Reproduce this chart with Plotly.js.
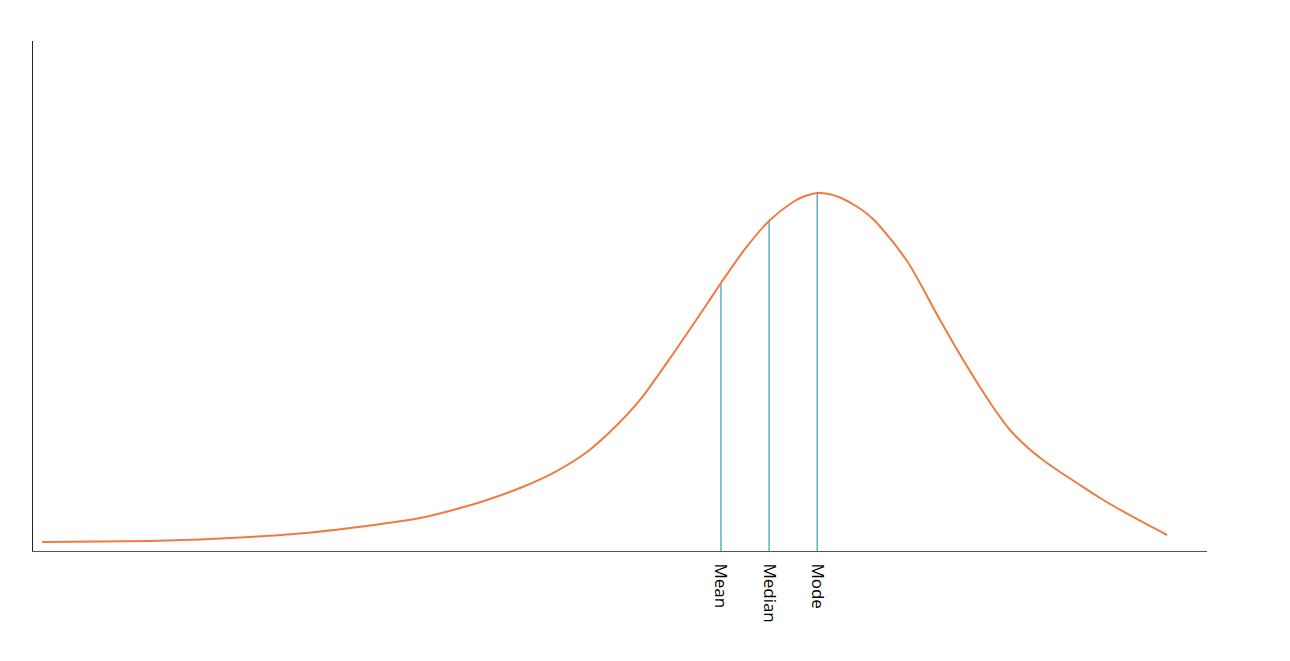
<!DOCTYPE html>
<html>
<head>
<meta charset="utf-8">
<script src="https://cdn.plot.ly/plotly-3.0.1.min.js"></script>
<style>html,body{margin:0;padding:0;background:#fff;}#chart{width:1290px;height:661px;}</style>
</head>
<body>
<div id="chart"></div>
<script>
// Curve values
var curveX = [0.77, 5.71, 9.97, 14.22, 18.48, 22.74, 27.0, 32.96, 35.78, 38.67, 41.48, 44.29, 47.19, 49.83, 51.7, 54.51, 57.41, 58.6, 60.65, 62.69, 64.74, 65.76, 66.78, 67.8, 68.74, 70.1, 71.55, 74.45, 77.26, 79.39, 81.77, 83.22, 84.67, 86.03, 87.48, 88.93, 90.89, 93.7, 96.59];
var curveY = [1.76, 1.86, 1.96, 2.25, 2.75, 3.43, 4.51, 6.47, 8.04, 10.0, 12.35, 15.29, 19.41, 24.9, 29.61, 38.63, 48.43, 52.55, 59.22, 64.71, 68.43, 69.61, 70.2, 70.0, 69.31, 67.65, 65.1, 56.86, 45.29, 36.86, 28.24, 23.73, 20.39, 17.84, 15.49, 13.33, 10.39, 6.67, 3.14];
var statNames = ["Mean", "Median", "Mode"];
var statX = [58.6, 62.7, 66.8];
var statY = [52.5, 64.7, 70.2];

var traces = [];
for (var i = 0; i < statNames.length; i++) {
  traces.push({
    x: [statX[i], statX[i]], y: [0, statY[i]],
    mode: 'lines', type: 'scatter', hoverinfo: 'skip',
    line: {color: '#5fb0c2', width: 1.5}, showlegend: false
  });
}
traces.push({
  x: curveX, y: curveY, mode: 'lines', type: 'scatter',
  line: {color: '#ef7b42', width: 2, shape: 'spline', smoothing: 0.8},
  showlegend: false
});

var layout = {
  width: 1290, height: 661,
  margin: {l: 33, r: 83, t: 41, b: 110},
  paper_bgcolor: '#fff', plot_bgcolor: '#fff',
  font: {family: 'Open Sans, Noto Sans, sans-serif', size: 17, color: '#000'},
  xaxis: {
    range: [0, 100], showgrid: false, zeroline: false,
    showline: true, linecolor: '#555', linewidth: 1,
    tickmode: 'array', tickvals: statX, ticktext: statNames,
    tickangle: 90, ticks: '', ticklen: 0, ticklabelstandoff: 8,
    tickfont: {size: 17, color: '#000'}
  },
  yaxis: {
    range: [0, 100], showgrid: false, zeroline: false,
    showline: true, linecolor: '#222', linewidth: 1,
    showticklabels: false, ticks: ''
  }
};
Plotly.newPlot('chart', traces, layout, {displayModeBar: false, staticPlot: true});
</script>
</body>
</html>
